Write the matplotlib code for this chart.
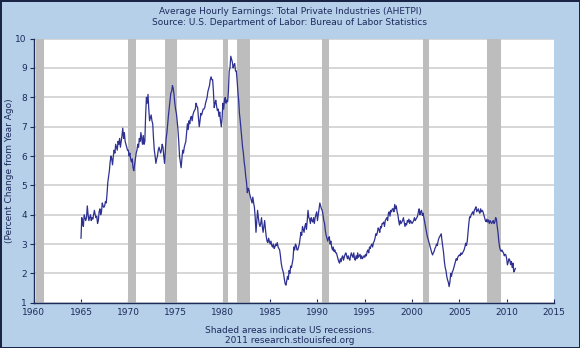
import numpy as np
import matplotlib.pyplot as plt

# year-over-year % change in average hourly earnings, monthly, Jan 1965 - Dec 2010
ahetpi = {
    1965: [3.2, 3.9, 3.7, 3.6, 4.0, 3.9, 3.8, 3.9, 4.3, 4.0, 3.8, 3.9],
    1966: [4.0, 3.8, 3.9, 3.85, 4.0, 4.15, 4.0, 3.9, 3.95, 3.7, 3.8, 4.1],
    1967: [4.2, 4.0, 4.1, 4.4, 4.3, 4.25, 4.3, 4.45, 4.4, 4.7, 5.1, 5.3],
    1968: [5.5, 5.8, 6.0, 5.9, 5.7, 6.0, 6.2, 6.1, 6.4, 6.3, 6.2, 6.5],
    1969: [6.4, 6.6, 6.3, 6.5, 6.7, 6.95, 6.6, 6.8, 6.5, 6.4, 6.3, 6.2],
    1970: [6.2, 6.0, 6.1, 5.9, 5.8, 5.9, 5.6, 5.5, 5.7, 5.9, 6.1, 6.2],
    1971: [6.4, 6.3, 6.6, 6.5, 6.8, 6.6, 6.4, 6.7, 6.4, 6.5, 7.4, 8.0],
    1972: [7.8, 8.1, 7.6, 7.2, 7.3, 7.4, 7.2, 7.1, 6.6, 6.2, 6.0, 5.75],
    1973: [5.9, 6.0, 6.2, 6.3, 6.2, 6.1, 6.2, 6.4, 6.3, 6.0, 5.75, 6.2],
    1974: [6.6, 6.8, 7.1, 7.4, 7.65, 7.9, 8.15, 8.2, 8.4, 8.3, 8.1, 7.8],
    1975: [7.6, 7.45, 7.2, 6.9, 6.5, 6.0, 5.8, 5.6, 5.9, 6.2, 6.1, 6.3],
    1976: [6.4, 6.5, 6.8, 7.1, 6.9, 7.2, 7.1, 7.3, 7.35, 7.2, 7.4, 7.5],
    1977: [7.55, 7.6, 7.8, 7.7, 7.65, 7.3, 7.0, 7.2, 7.45, 7.4, 7.5, 7.6],
    1978: [7.6, 7.65, 7.8, 7.9, 8.0, 8.2, 8.3, 8.4, 8.6, 8.7, 8.6, 8.6],
    1979: [8.2, 7.65, 7.8, 7.9, 7.7, 7.55, 7.6, 7.35, 7.5, 7.2, 7.0, 7.3],
    1980: [7.8, 7.6, 7.9, 8.0, 7.8, 7.9, 7.85, 8.2, 8.9, 9.0, 9.4, 9.3],
    1981: [9.2, 9.0, 9.1, 9.15, 8.9, 8.9, 8.6, 8.2, 7.9, 7.45, 7.2, 6.9],
    1982: [6.6, 6.3, 6.1, 5.8, 5.6, 5.3, 5.1, 4.75, 4.9, 4.85, 4.7, 4.6],
    1983: [4.5, 4.4, 4.6, 4.4, 4.25, 3.9, 3.4, 3.8, 4.15, 3.9, 3.7, 3.6],
    1984: [3.7, 3.9, 3.6, 3.4, 3.6, 3.8, 3.5, 3.25, 3.1, 3.05, 3.2, 3.1],
    1985: [3.0, 3.1, 2.95, 2.9, 3.0, 2.85, 2.9, 3.0, 2.95, 3.05, 2.9, 2.85],
    1986: [2.8, 2.6, 2.35, 2.2, 2.1, 2.0, 1.8, 1.65, 1.6, 1.75, 1.9, 1.8],
    1987: [2.1, 2.0, 2.25, 2.2, 2.35, 2.5, 2.9, 2.8, 3.0, 2.95, 2.8, 2.8],
    1988: [2.9, 3.0, 3.2, 3.4, 3.3, 3.6, 3.5, 3.4, 3.6, 3.7, 3.5, 3.8],
    1989: [4.15, 3.9, 3.85, 3.7, 3.9, 3.8, 3.75, 3.9, 3.7, 3.9, 4.0, 4.1],
    1990: [3.8, 4.0, 4.2, 4.4, 4.3, 4.2, 4.15, 4.0, 3.8, 3.7, 3.45, 3.3],
    1991: [3.2, 3.1, 3.2, 3.25, 3.0, 3.1, 2.9, 2.8, 2.9, 2.75, 2.8, 2.7],
    1992: [2.7, 2.6, 2.5, 2.4, 2.35, 2.5, 2.4, 2.55, 2.6, 2.45, 2.55, 2.65],
    1993: [2.7, 2.6, 2.5, 2.6, 2.5, 2.45, 2.6, 2.7, 2.6, 2.55, 2.7, 2.5],
    1994: [2.45, 2.6, 2.5, 2.7, 2.55, 2.6, 2.65, 2.5, 2.6, 2.5, 2.55, 2.6],
    1995: [2.55, 2.65, 2.6, 2.75, 2.8, 2.7, 2.9, 2.85, 2.95, 3.0, 2.9, 3.05],
    1996: [3.1, 3.2, 3.35, 3.3, 3.4, 3.55, 3.5, 3.4, 3.6, 3.55, 3.7, 3.7],
    1997: [3.75, 3.6, 3.8, 3.85, 3.9, 3.8, 4.05, 4.1, 3.95, 4.15, 4.1, 4.2],
    1998: [4.2, 4.1, 4.35, 4.2, 4.3, 4.1, 4.0, 3.8, 3.65, 3.8, 3.7, 3.75],
    1999: [3.8, 3.9, 3.75, 3.6, 3.7, 3.65, 3.8, 3.75, 3.85, 3.7, 3.8, 3.75],
    2000: [3.7, 3.75, 3.8, 3.9, 3.8, 3.85, 3.9, 3.95, 4.1, 4.2, 4.0, 4.1],
    2001: [4.15, 3.98, 4.05, 3.9, 3.75, 3.6, 3.45, 3.3, 3.2, 3.1, 3.0, 2.9],
    2002: [2.8, 2.7, 2.63, 2.7, 2.75, 2.85, 2.9, 3.0, 2.95, 3.1, 3.2, 3.25],
    2003: [3.3, 3.35, 3.1, 2.9, 2.7, 2.4, 2.2, 2.1, 1.9, 1.78, 1.7, 1.55],
    2004: [1.7, 2.0, 1.9, 2.05, 2.1, 2.2, 2.3, 2.4, 2.5, 2.45, 2.55, 2.6],
    2005: [2.63, 2.6, 2.7, 2.65, 2.69, 2.75, 2.8, 2.9, 3.03, 2.95, 3.1, 3.4],
    2006: [3.7, 3.93, 3.9, 4.0, 4.05, 4.1, 4.0, 4.15, 4.2, 4.27, 4.1, 4.15],
    2007: [4.2, 4.1, 4.05, 4.2, 4.1, 4.15, 4.1, 4.0, 3.9, 3.8, 3.76, 3.85],
    2008: [3.75, 3.82, 3.7, 3.8, 3.75, 3.7, 3.76, 3.8, 3.7, 3.75, 3.9, 3.85],
    2009: [3.6, 3.4, 3.1, 2.9, 2.8, 2.75, 2.8, 2.74, 2.7, 2.6, 2.65, 2.63],
    2010: [2.5, 2.29, 2.4, 2.5, 2.45, 2.3, 2.4, 2.2, 2.35, 2.05, 2.1, 2.17],
}

# NBER recessions (start, end) in decimal years
rec_start = [1960.25, 1969.92, 1973.83, 1980.0, 1981.5, 1990.5, 2001.17, 2007.92]
rec_end = [1961.08, 1970.83, 1975.17, 1980.5, 1982.83, 1991.17, 2001.83, 2009.42]

years = sorted(ahetpi)
t = np.array([y + m / 12 for y in years for m in range(12)])
vals = np.array([v for y in years for v in ahetpi[y]])

navy = '#1c2a5c'
bg = '#b7d0e9'

fig = plt.figure(figsize=(5.8, 3.48), dpi=100, facecolor=bg,
                 edgecolor='#1a2545', linewidth=1.8)
ax = fig.add_axes([0.0581, 0.130, 0.897, 0.759])
ax.set_facecolor('white')

for s, e in zip(rec_start, rec_end):
    ax.axvspan(s, e, color='#bdbdbd', lw=0, zorder=1)

ax.plot(t, vals, color='#2e3192', lw=0.9, zorder=3)

ax.set_xlim(1960, 2015)
ax.set_ylim(1, 10)
ax.set_xticks(np.arange(1960, 2016, 5))
ax.set_yticks(np.arange(1, 11))
ax.grid(axis='y', color='#cccccc', lw=1.1, zorder=0)
ax.set_axisbelow(True)

for side in ['top', 'right']:
    ax.spines[side].set_visible(False)
for side in ['left', 'bottom']:
    ax.spines[side].set_color(navy)
    ax.spines[side].set_linewidth(1.0)

ax.tick_params(axis='x', direction='in', length=3, color=navy, labelcolor=navy,
               labelsize=6.5, pad=4)
ax.tick_params(axis='y', direction='out', length=3, color=navy, labelcolor=navy,
               labelsize=6.5, pad=2)

fig.text(0.016, 0.51, '(Percent Change from Year Ago)', rotation=90,
         ha='center', va='center', color=navy, fontsize=6.5)
fig.text(0.5, 0.968, 'Average Hourly Earnings: Total Private Industries (AHETPI)',
         ha='center', va='center', color=navy, fontsize=6.5)
fig.text(0.5, 0.936, 'Source: U.S. Department of Labor: Bureau of Labor Statistics',
         ha='center', va='center', color=navy, fontsize=6.5)
fig.text(0.5, 0.050, 'Shaded areas indicate US recessions.',
         ha='center', va='center', color=navy, fontsize=6.5)
fig.text(0.5, 0.021, '2011 research.stlouisfed.org',
         ha='center', va='center', color=navy, fontsize=6.5)

fig.savefig('out.png', dpi=100, facecolor=bg)
